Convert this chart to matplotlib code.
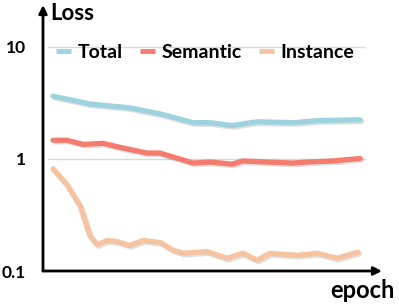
import matplotlib
matplotlib.use('Agg')
import matplotlib.pyplot as plt
import matplotlib.patheffects as pe

plt.rcParams['font.family'] = ['Lato', 'DejaVu Sans']
plt.rcParams['font.weight'] = 'bold'

# readings (epoch, loss on log scale)
total_epoch = [0, 7.2, 15.0, 20.9, 27.4, 30.7, 35.0, 39.9, 46.9, 51.6, 60.0]
total_loss = [3.64, 3.10, 2.86, 2.53, 2.11, 2.11, 1.99, 2.15, 2.11, 2.20, 2.24]

semantic_epoch = [0, 2.7, 5.9, 9.8, 13.7, 18.4, 20.9, 23.5, 27.4, 30.7, 35.0,
                  37.1, 41.8, 46.9, 49.6, 54.7, 60.0]
semantic_loss = [1.47, 1.47, 1.35, 1.38, 1.25, 1.13, 1.13, 1.04, 0.92, 0.94, 0.90,
                 0.96, 0.94, 0.92, 0.94, 0.96, 1.01]

instance_epoch = [0, 2.7, 5.3, 7.2, 8.6, 10.6, 12.5, 15.0, 17.6, 20.9, 23.5, 25.4,
                  30.1, 34.0, 37.1, 39.9, 42.4, 47.7, 51.6, 55.5, 59.6]
instance_loss = [0.817, 0.59, 0.38, 0.207, 0.172, 0.187, 0.183, 0.169, 0.187, 0.18,
                 0.153, 0.144, 0.149, 0.130, 0.144, 0.125, 0.144, 0.138, 0.144,
                 0.130, 0.147]

yticks = [0.1, 1, 10]
ytick_labels = ['0.1', '1', '10']

fig = plt.figure(figsize=(3.99, 3.08), dpi=100)
ax = fig.add_axes([43 / 399, 37 / 308, 339 / 399, 266 / 308])

shadow = [pe.SimpleLineShadow(offset=(1.2, -1.2), shadow_color='gray', alpha=0.25),
          pe.Normal()]

ax.plot(total_epoch, total_loss, color='#9DD3DF', lw=3.8, label='Total',
        solid_capstyle='round', solid_joinstyle='round', path_effects=shadow)
ax.plot(semantic_epoch, semantic_loss, color='#F47B6E', lw=3.8, label='Semantic',
        solid_capstyle='round', solid_joinstyle='round', path_effects=shadow)
ax.plot(instance_epoch, instance_loss, color='#F6C3A0', lw=3.8, label='Instance',
        solid_capstyle='round', solid_joinstyle='round', path_effects=shadow)

ax.set_yscale('log')
ax.set_ylim(0.1, 23.7)
ax.set_xlim(-1.95, 64.3)

for g in [1, 10]:
    ax.axhline(g, xmin=0.015, xmax=0.95, color='#D9D9D9', lw=1, zorder=0)

ax.set_yticks(yticks)
ax.set_yticklabels(ytick_labels, fontsize=12.5, fontweight='bold')
ax.minorticks_off()
ax.tick_params(axis='y', length=0, pad=12)
ax.set_xticks([])
for s in ax.spines.values():
    s.set_visible(False)

arrow = dict(arrowstyle='-|>', color='black', lw=2, mutation_scale=12,
             shrinkA=0, shrinkB=0)
ax.annotate('', xy=(0, 1), xytext=(0, 0), xycoords='axes fraction', arrowprops=arrow)
ax.annotate('', xy=(1, 0), xytext=(0, 0), xycoords='axes fraction', arrowprops=arrow)

fig.text(50 / 399, 1 - 14 / 308, 'Loss', fontsize=16, fontweight='bold',
         ha='left', va='center')
fig.text(362 / 399, 1 - 291 / 308, 'epoch', fontsize=17, fontweight='bold',
         ha='center', va='center')

leg = ax.legend(ncol=3, frameon=False, loc='center left',
                bbox_to_anchor=(13 / 339, 1 - 47 / 266), fontsize=14,
                handlelength=0.75, handletextpad=0.35, columnspacing=0.9,
                borderaxespad=0, borderpad=0)
for line in leg.get_lines():
    line.set_linewidth(3.5)
    line.set_path_effects([])
    line.set_solid_capstyle('butt')

fig.savefig('out.png', dpi=100)
